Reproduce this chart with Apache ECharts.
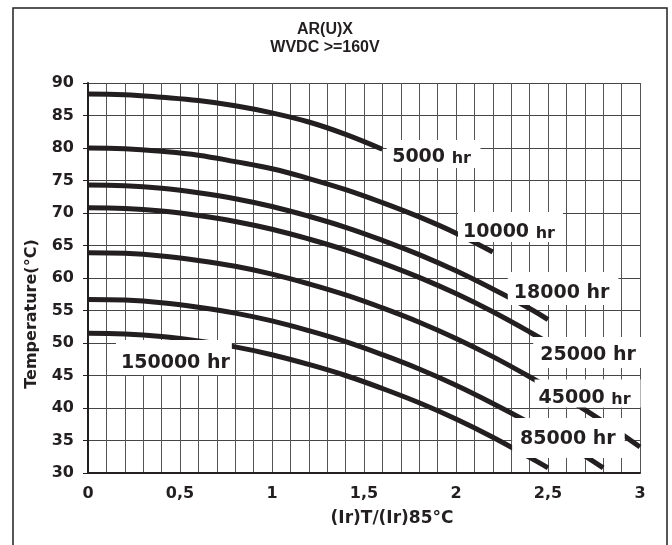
<!DOCTYPE html>
<html>
<head>
<meta charset="utf-8">
<script src="https://cdn.jsdelivr.net/npm/echarts@6/dist/echarts.min.js"></script>
<style>
html,body{margin:0;padding:0;background:#fff;}
#chart{width:672px;height:545px;}
</style>
</head>
<body>
<div id="chart"></div>
<script>
// ---- data ----
const ratio = [0, 0.2, 0.4, 0.6, 0.8, 1.0, 1.2, 1.4, 1.6, 1.8, 2.0, 2.2, 2.4, 2.6, 2.8, 3.0];
const hours = ['5000', '10000', '18000', '25000', '45000', '85000', '150000'];
const endRatio = [1.6, 2.2, 2.5, 2.6, 3.0, 2.8, 2.5];
const t5000   = [88.3, 88.2, 87.8, 87.3, 86.5, 85.4, 84.0, 82.1, 79.8];
const t10000  = [80.0, 79.9, 79.5, 78.9, 77.9, 76.8, 75.3, 73.6, 71.6, 69.4, 66.9, 64.0];
const t18000  = [74.3, 74.2, 73.8, 73.1, 72.2, 71.0, 69.5, 67.8, 65.8, 63.6, 61.1, 58.3, 55.3, 53.6];
const t25000  = [70.8, 70.7, 70.3, 69.6, 68.7, 67.5, 66.0, 64.3, 62.3, 60.1, 57.6, 54.8, 51.7, 48.4];
const t45000  = [63.9, 63.8, 63.4, 62.7, 61.8, 60.6, 59.1, 57.4, 55.4, 53.2, 50.7, 47.9, 44.8, 41.5, 37.9, 34.0];
const t85000  = [56.7, 56.6, 56.2, 55.5, 54.6, 53.4, 51.9, 50.2, 48.2, 46.0, 43.5, 40.7, 37.7, 34.4, 30.8];
const t150000 = [51.5, 51.4, 51.0, 50.3, 49.4, 48.2, 46.7, 45.0, 43.0, 40.8, 38.3, 35.5, 32.4, 30.8];
const yTicks = [30, 35, 40, 45, 50, 55, 60, 65, 70, 75, 80, 85, 90];
const xTickLabels = ['0', '0,5', '1', '1,5', '2', '2,5', '3'];

// ---- layout (label placement, not data) ----
const labelAnchor = [[1.878, 79.08], [2.296, 67.85], [2.582, 58.38], [2.723, 48.54], [2.715, 42.23], [2.611, 35.38], [0.467, 47.77]];
// padding [top, right, bottom, left]
const labelPad = [[8, 9.5, 1, 5.5], [10.5, 8, 0.5, 5], [12, 9, 2, 6], [9, 9, 3, 7], [9, 10, 0, 4], [11.5, 9, 9.5, 8], [14, 2, 2, 5]];
const smallHr = [true, true, false, false, true, false, false];

const allT = [t5000, t10000, t18000, t25000, t45000, t85000, t150000];
const INK = '#231f20';

function pts(vals, k) {
  return vals.map((v, i) => [i < vals.length - 1 ? ratio[i] : endRatio[k], v]);
}

const series = allT.map((vals, k) => ({
  type: 'line',
  name: hours[k] + ' hr',
  data: pts(vals, k),
  showSymbol: false,
  smooth: 0.4,
  z: 3,
  lineStyle: { color: INK, width: 5, cap: 'butt', opacity: 1 },
  silent: true
}));

series.push({
  type: 'scatter',
  z: 10,
  symbolSize: 0,
  silent: true,
  itemStyle: { opacity: 1 },
  data: labelAnchor.map((p, k) => ({
    value: p,
    label: {
      show: true,
      position: 'inside',
      formatter: '{n|' + hours[k] + ' }' + (smallHr[k] ? '{s|hr}' : '{n|hr}'),
      backgroundColor: '#ffffff',
      padding: labelPad[k]
    }
  })),
  label: {
    show: true,
    opacity: 1,
    rich: {
      n: { fontFamily: 'DejaVu Sans', fontWeight: 'bold', fontSize: 19, lineHeight: 19, color: INK, verticalAlign: 'bottom' },
      s: { fontFamily: 'DejaVu Sans', fontWeight: 'bold', fontSize: 16, lineHeight: 16, color: INK, verticalAlign: 'bottom' }
    }
  }
});

const chart = echarts.init(document.getElementById('chart'), null, { renderer: 'canvas' });
chart.setOption({
  animation: false,
  backgroundColor: '#ffffff',
  title: {
    text: 'AR(U)X\nWVDC >=160V',
    left: 320,
    top: 16,
    textAlign: 'center',
    textStyle: { fontFamily: 'Liberation Sans', fontWeight: 'bold', fontSize: 16, lineHeight: 18, color: INK }
  },
  graphic: [{
    type: 'rect',
    shape: { x: 13, y: 8, width: 654, height: 560 },
    style: { fill: 'none', stroke: INK, lineWidth: 1.5 },
    silent: true
  }],
  grid: { left: 88, right: 32, top: 83, bottom: 72, containLabel: false },
  xAxis: {
    type: 'value',
    min: 0, max: 3, interval: 0.1,
    name: '(Ir)T/(Ir)85°C',
    nameLocation: 'middle',
    nameGap: 37,
    nameTextStyle: { fontFamily: 'DejaVu Sans', fontWeight: 'bold', fontSize: 17, color: INK, padding: [0, 0, 0, 56] },
    axisLine: { show: true, onZero: false, lineStyle: { color: INK, width: 2 } },
    axisTick: { show: false },
    splitLine: { show: true, lineStyle: { color: '#555555', width: 1 } },
    axisLabel: {
      interval: 0,
      margin: 13,
      showMinLabel: true, showMaxLabel: true,
      fontFamily: 'DejaVu Sans', fontWeight: 'bold', fontSize: 16, color: INK,
      formatter: function (v) {
        const r = Math.round(v * 10);
        if (r % 5 !== 0) return '';
        return xTickLabels[r / 5];
      }
    }
  },
  yAxis: {
    type: 'value',
    min: yTicks[0], max: yTicks[yTicks.length - 1], interval: 5,
    name: 'Temperature(°C)',
    nameLocation: 'middle',
    nameRotate: 90,
    nameGap: 48,
    nameTextStyle: { fontFamily: 'DejaVu Sans', fontWeight: 'bold', fontSize: 16, color: INK, padding: [0, 72, 0, 0] },
    axisLine: { show: true, onZero: false, lineStyle: { color: INK, width: 2 } },
    axisTick: { show: true, inside: false, length: 5, lineStyle: { color: INK, width: 1 } },
    splitLine: { show: true, lineStyle: { color: '#444444', width: 1 } },
    axisLabel: { margin: 14, fontFamily: 'DejaVu Sans', fontWeight: 'bold', fontSize: 16, color: INK }
  },
  series: series
});
</script>
</body>
</html>
